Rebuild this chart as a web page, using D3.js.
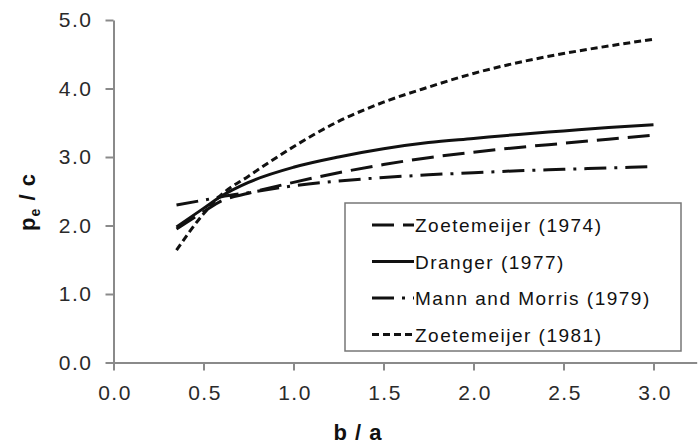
<!DOCTYPE html>
<html>
<head>
<meta charset="utf-8">
<script src="https://cdn.jsdelivr.net/npm/d3@7"></script>
<style>
  body { margin: 0; background: #fff; }
  svg { display: block; font-family: Arial, "Liberation Sans", sans-serif; }
</style>
</head>
<body>
<svg id="chart" width="698" height="447"></svg>
<script>
// b / a values where each curve was read
var ratios = [0.35, 0.5, 0.6, 0.75, 1.0, 1.25, 1.5, 1.75, 2.0, 2.25, 2.5, 2.75, 3.0];

// pe / c for each method
var zoet1974 = [1.95, 2.20, 2.36, 2.47, 2.63, 2.77, 2.89, 2.99, 3.07, 3.14, 3.20, 3.26, 3.32];
var dranger1977 = [1.98, 2.25, 2.43, 2.63, 2.85, 3.00, 3.12, 3.21, 3.27, 3.33, 3.38, 3.43, 3.47];
var mannMorris1979 = [2.30, 2.37, 2.42, 2.48, 2.58, 2.65, 2.70, 2.74, 2.77, 2.80, 2.82, 2.84, 2.86];
var zoet1981 = [1.64, 2.17, 2.45, 2.72, 3.15, 3.52, 3.80, 4.02, 4.22, 4.38, 4.51, 4.62, 4.72];

var seriesNames = ['Zoetemeijer (1974)', 'Dranger (1977)', 'Mann and Morris (1979)', 'Zoetemeijer (1981)'];
var xTicks = [0, 0.5, 1.0, 1.5, 2.0, 2.5, 3.0];
var yTicks = [0, 1, 2, 3, 4, 5];

var dashes = ['22,9', null, '22,8,3,8', '7,4'];

var series = [zoet1974, dranger1977, mannMorris1979, zoet1981].map(function(vals, i) {
  return {
    name: seriesNames[i],
    dash: dashes[i],
    points: vals.map(function(v, j) { return {x: ratios[j], y: v}; })
  };
});

var svg = d3.select('#chart');

var x = d3.scaleLinear().domain([0, 3.24]).range([113.5, 696.7]);
var y = d3.scaleLinear().domain([0, 5]).range([362.5, 20]);

var axisColor = '#8a8a8a';

// X axis
var gx = svg.append('g')
  .attr('transform', 'translate(0,' + y(0) + ')')
  .call(d3.axisBottom(x).tickValues(xTicks).tickFormat(d3.format('.1f')).tickSize(8).tickSizeOuter(0));

gx.select('.domain').attr('stroke', axisColor).attr('stroke-width', 2);
gx.selectAll('.tick line').attr('stroke', axisColor).attr('stroke-width', 2);
gx.selectAll('.tick text')
  .attr('y', 23)
  .attr('dx', 1)
  .attr('dy', '0.71em')
  .attr('fill', '#2a2a2a')
  .style('font-size', '21px')
  .style('letter-spacing', '1.5px');

// Y axis
var gy = svg.append('g')
  .attr('transform', 'translate(' + x(0) + ',0)')
  .call(d3.axisLeft(y).tickValues(yTicks).tickFormat(d3.format('.1f')).tickSize(8).tickSizeOuter(0));

gy.select('.domain').attr('stroke', axisColor).attr('stroke-width', 2);
gy.selectAll('.tick line').attr('stroke', axisColor).attr('stroke-width', 2);
gy.selectAll('.tick text')
  .attr('x', -21)
  .attr('fill', '#2a2a2a')
  .style('font-size', '21px')
  .style('letter-spacing', '1.5px');

// Axis titles
svg.append('text')
  .attr('x', 358)
  .attr('y', 440)
  .attr('text-anchor', 'middle')
  .attr('fill', '#111')
  .style('font-size', '22px')
  .style('font-weight', 'bold')
  .style('letter-spacing', '1px')
  .text('b / a');

var yTitle = svg.append('text')
  .attr('transform', 'rotate(-90)')
  .attr('x', -202)
  .attr('y', 35)
  .attr('text-anchor', 'middle')
  .attr('fill', '#111')
  .style('font-size', '22px')
  .style('font-weight', 'bold')
  .style('letter-spacing', '1px');
yTitle.append('tspan').text('p');
yTitle.append('tspan').attr('dy', 5).style('font-size', '14px').text('e');
yTitle.append('tspan').attr('dy', -5).text(' / c');

// Curves
var line = d3.line()
  .x(function(d) { return x(d.x); })
  .y(function(d) { return y(d.y); })
  .curve(d3.curveMonotoneX);

svg.append('g').selectAll('path')
  .data(series)
  .enter().append('path')
  .attr('d', function(d) { return line(d.points); })
  .attr('fill', 'none')
  .attr('stroke', '#111')
  .attr('stroke-width', 3)
  .attr('stroke-dasharray', function(d) { return d.dash; });

// Legend
var legend = svg.append('g').attr('transform', 'translate(345,203)');

legend.append('rect')
  .attr('width', 336)
  .attr('height', 148)
  .attr('fill', '#fff')
  .attr('stroke', '#777')
  .attr('stroke-width', 1.5);

var rows = legend.selectAll('g.row')
  .data(series)
  .enter().append('g')
  .attr('class', 'row')
  .attr('transform', function(d, i) { return 'translate(0,' + (22 + i * 36.5) + ')'; });

rows.append('line')
  .attr('x1', 27)
  .attr('x2', 69)
  .attr('stroke', '#111')
  .attr('stroke-width', 3)
  .attr('stroke-dasharray', function(d) { return d.dash; });

rows.append('text')
  .attr('x', 70)
  .attr('y', 7)
  .attr('fill', '#111')
  .style('font-size', '19px')
  .style('letter-spacing', '1.5px')
  .text(function(d) { return d.name; });
</script>
</body>
</html>
